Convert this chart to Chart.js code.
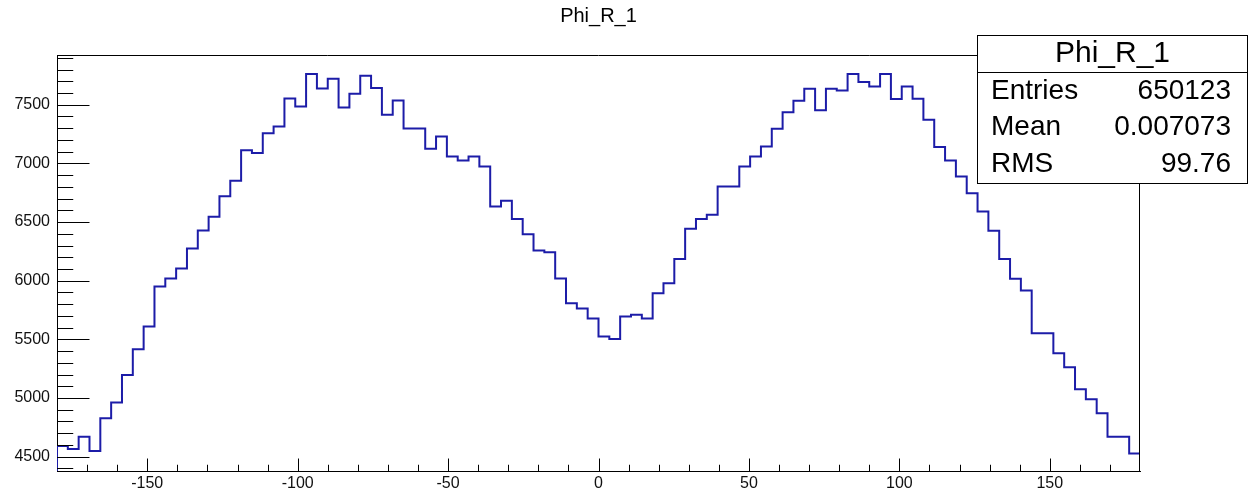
<!DOCTYPE html>
<html>
<head>
<meta charset="utf-8">
<script src="https://cdn.jsdelivr.net/npm/chart.js@4/dist/chart.umd.min.js"></script>
<style>
  html, body { margin: 0; padding: 0; background: #fff; }
  #wrap { width: 1256px; height: 493px; position: relative; }
</style>
</head>
<body>
<div id="wrap"><canvas id="c" width="1256" height="493"></canvas></div>
<script>
// ---- data ----
const histTitle = 'Phi_R_1';
const xLow = -180;
const xHigh = 180;
const binCount = 100;
const binValues = [
  4591, 4565, 4671, 4548, 4827, 4961, 5197, 5416, 5609, 5950,
  6018, 6104, 6274, 6428, 6545, 6721, 6852, 7113, 7088, 7258,
  7315, 7554, 7486, 7762, 7639, 7722, 7477, 7594, 7747, 7642,
  7415, 7537, 7298, 7298, 7125, 7230, 7059, 7025, 7059, 6974,
  6633, 6681, 6527, 6397, 6257, 6243, 6018, 5808, 5763, 5677,
  5524, 5504, 5694, 5709, 5677, 5893, 5979, 6186, 6442, 6525,
  6562, 6803, 6803, 6974, 7059, 7145, 7295, 7435, 7534, 7636,
  7452, 7636, 7622, 7762, 7693, 7656, 7762, 7548, 7656, 7551,
  7372, 7139, 7025, 6889, 6746, 6590, 6425, 6186, 6016, 5916,
  5552, 5552, 5382, 5262, 5074, 4989, 4870, 4671, 4671, 4528
];
const xTickLabels = [-150, -100, -50, 0, 50, 100, 150];
const yTickLabels = [4500, 5000, 5500, 6000, 6500, 7000, 7500];
const yMin = 4378;
const yMax = 7924;
const statLabels = ['Entries', 'Mean', 'RMS'];
const statValues = ['650123', '0.007073', '99.76'];

// ---- build step points from bins ----
const binWidth = (xHigh - xLow) / binCount;
const points = [{ x: xLow, y: yMin }];
binValues.forEach((v, i) => points.push({ x: xLow + i * binWidth, y: v }));
points.push({ x: xHigh, y: binValues[binValues.length - 1] });
points.push({ x: xHigh, y: yMin });

const FONT = "'Liberation Sans', Arial, Helvetica, sans-serif";

// inside ticks + frame + stats box
const rootDecor = {
  id: 'rootDecor',
  afterDatasetsDraw(chart) {
    const ctx = chart.ctx;
    const a = chart.chartArea;
    const xs = chart.scales.x, ys = chart.scales.y;
    ctx.save();
    ctx.strokeStyle = '#000';
    ctx.lineWidth = 1;
    ctx.beginPath();
    // frame top and right
    ctx.moveTo(a.left, Math.round(a.top) + 0.5);
    ctx.lineTo(a.right, Math.round(a.top) + 0.5);
    ctx.moveTo(Math.round(a.right) - 0.5, a.top);
    ctx.lineTo(Math.round(a.right) - 0.5, a.bottom);
    // x ticks (inside, from bottom)
    const xMajLen = 0.03 * (a.bottom - a.top);
    for (let v = -170; v <= 170; v += 10) {
      const px = Math.round(xs.getPixelForValue(v)) + 0.5;
      const major = xTickLabels.includes(v);
      ctx.moveTo(px, a.bottom);
      ctx.lineTo(px, a.bottom - (major ? xMajLen : xMajLen / 2));
    }
    // y ticks (inside, from left)
    const yMajLen = 0.03 * (a.right - a.left);
    for (let v = 4400; v <= 7900; v += 100) {
      const py = Math.round(ys.getPixelForValue(v)) + 0.5;
      const major = yTickLabels.includes(v);
      ctx.moveTo(a.left, py);
      ctx.lineTo(a.left + (major ? yMajLen : yMajLen / 2), py);
    }
    ctx.stroke();

    // stats box
    const bx = 977.5, by = 35.5, bw = 270, bh = 148, sep = 72.5;
    ctx.fillStyle = '#fff';
    ctx.fillRect(bx, by, bw, bh);
    ctx.strokeRect(bx, by, bw, bh);
    ctx.beginPath();
    ctx.moveTo(bx, sep);
    ctx.lineTo(bx + bw, sep);
    ctx.stroke();
    ctx.fillStyle = '#000';
    ctx.textBaseline = 'middle';
    ctx.font = '30px ' + FONT;
    ctx.textAlign = 'center';
    ctx.fillText(histTitle, bx + bw / 2, 54);
    ctx.font = '28px ' + FONT;
    const rowY = [91, 127.5, 164];
    statLabels.forEach((lab, i) => {
      ctx.textAlign = 'left';
      ctx.fillText(lab, 991, rowY[i]);
      ctx.textAlign = 'right';
      ctx.fillText(statValues[i], 1231, rowY[i]);
    });
    ctx.restore();
  }
};

new Chart(document.getElementById('c'), {
  type: 'line',
  data: {
    datasets: [{
      label: histTitle,
      data: points,
      stepped: 'before',
      borderColor: '#1c1ca8',
      borderWidth: 2,
      pointRadius: 0,
      fill: false,
      tension: 0
    }]
  },
  options: {
    responsive: false,
    animation: false,
    layout: { padding: { left: 0, right: 116, top: 0, bottom: 0 } },
    plugins: {
      legend: { display: false },
      tooltip: { enabled: false },
      title: {
        display: true,
        text: histTitle,
        fullSize: false,
        color: '#000',
        font: { family: FONT, size: 20, weight: 'normal' },
        padding: { top: 4, bottom: 27 }
      }
    },
    scales: {
      x: {
        type: 'linear',
        min: xLow,
        max: xHigh,
        afterBuildTicks: s => { s.ticks = xTickLabels.map(v => ({ value: v })); },
        afterFit: s => { s.height = 22; },
        grid: { display: false, drawTicks: false },
        border: { display: true, color: '#000', width: 1 },
        ticks: {
          padding: 3,
          color: '#111',
          font: { family: FONT, size: 16 },
          maxRotation: 0,
          autoSkip: false,
          callback: v => String(v)
        }
      },
      y: {
        type: 'linear',
        min: yMin,
        max: yMax,
        afterBuildTicks: s => { s.ticks = yTickLabels.map(v => ({ value: v })); },
        afterFit: s => { s.width = 57; },
        grid: { display: false, drawTicks: false },
        border: { display: true, color: '#000', width: 1 },
        ticks: {
          padding: 7,
          color: '#111',
          font: { family: FONT, size: 16 },
          autoSkip: false,
          callback: v => String(v)
        }
      }
    }
  },
  plugins: [rootDecor]
});
</script>
</body>
</html>
